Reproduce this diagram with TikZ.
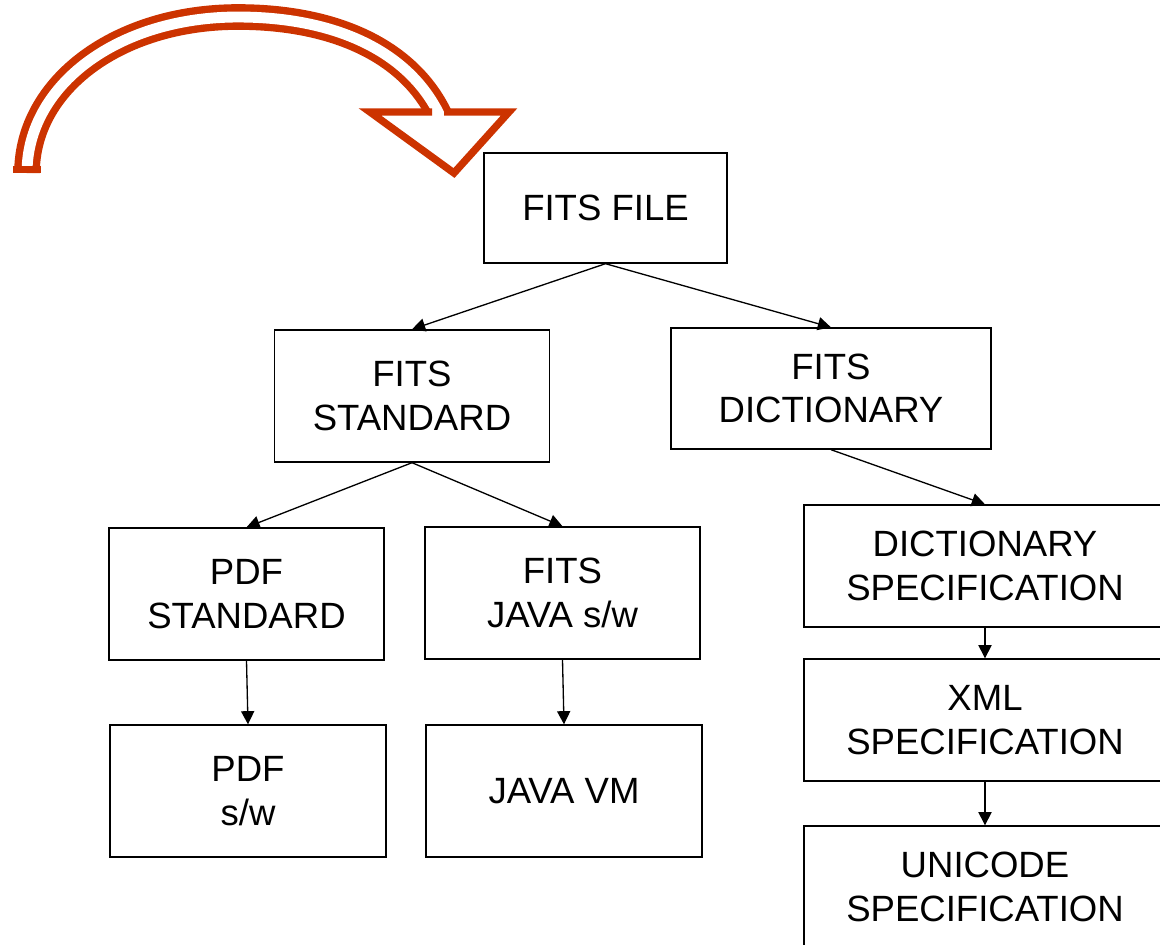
\documentclass[tikz,border=0pt]{standalone}
\usepackage{fontspec}
\setmainfont{Liberation Sans}
\usepackage{tikz}
\usetikzlibrary{arrows.meta}
\usetikzlibrary{positioning}
\definecolor{bigarrow}{RGB}{204,51,0}

\begin{document}
\begin{tikzpicture}
  [
    x=0.02cm, y=-0.02cm,
    blk/.style={draw=black, line width=0.8pt, align=center, inner sep=0pt,
      font=\fontsize{20.8}{24.6}\selectfont},
    ln/.style={draw=black, line width=0.75pt, -{Triangle[length=7.5pt,width=7.5pt]}}
  ]
  \useasboundingbox (0,0) rectangle (1160,944);
  \clip (0,0) rectangle (1160,944);

  % hollow curved arrow
  \begin{scope}
    \clip (0,0) -- (1160,0) -- (1160,112) -- (300,112) -- (300,200) -- (0,200) -- cycle;
    \draw [bigarrow, line width=4.2pt, double=white, double distance=6.2pt]
      (27,173) .. controls (27,85) and (118,17) .. (238,17)
               .. controls (330,17) and (405,48) .. (438,112) -- (454.5,145.5);
  \end{scope}
  \draw [bigarrow, line width=4.2pt] (13,169.3) -- (41,169.3);
  \draw [bigarrow, line width=4.2pt, fill=white, line join=miter]
    (432,112) -- (370,112) -- (454,173) -- (509,112) -- (444,112);

  \node (file) at (605.5,208) [blk, minimum width=4.86cm, minimum height=2.2cm] {FITS FILE};

  \node (std)  at (412,396) [blk, minimum width=5.5cm, minimum height=2.64cm] {FITS\\STANDARD};
  \node (dict) at (831,388.5) [blk, minimum width=6.4cm, minimum height=2.42cm] {FITS\\DICTIONARY};

  \node (pdf)  at (246.5,594) [blk, minimum width=5.5cm, minimum height=2.64cm] {PDF\\STANDARD};
  \node (java) at (562.5,593) [blk, minimum width=5.5cm, minimum height=2.64cm] {FITS\\JAVA s/w};

  \node (pdfsw) at (248,791) [blk, minimum width=5.52cm, minimum height=2.64cm] {PDF\\s/w};
  \node (jvm)   at (564,791) [blk, minimum width=5.52cm, minimum height=2.64cm] {JAVA VM};

  \node (dspec) at (985,566) [blk, minimum width=7.24cm, minimum height=2.44cm] {DICTIONARY\\SPECIFICATION};
  \node (xml)   at (985,720) [blk, minimum width=7.24cm, minimum height=2.44cm] {XML\\SPECIFICATION};
  \node (uni)   at (985,887) [blk, minimum width=7.24cm, minimum height=2.44cm] {UNICODE\\SPECIFICATION};

  \draw [ln] (file.south) -- (std.north);
  \draw [ln] (file.south) -- (dict.north);
  \draw [ln] (std.south) -- (pdf.north);
  \draw [ln] (std.south) -- (java.north);
  \draw [ln] (pdf.south) -- (pdfsw.north);
  \draw [ln] (java.south) -- (jvm.north);
  \draw [ln] (dict.south) -- (dspec.north);
  \draw [ln] (dspec.south) -- (xml.north);
  \draw [ln] (xml.south) -- (uni.north);
\end{tikzpicture}
\end{document}
